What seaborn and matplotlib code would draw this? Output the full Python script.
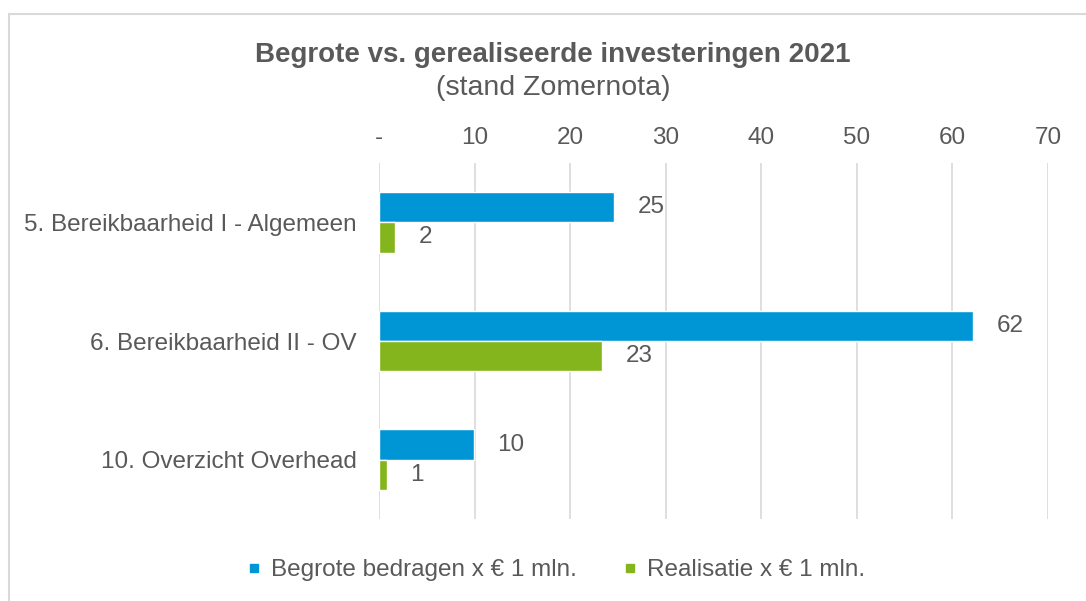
import matplotlib
matplotlib.use("Agg")
import matplotlib.pyplot as plt
import seaborn as sns
import pandas as pd
from matplotlib.patches import Rectangle
from matplotlib.lines import Line2D

categories = ["5. Bereikbaarheid I - Algemeen", "6. Bereikbaarheid II - OV", "10. Overzicht Overhead"]
series_names = ["Begrote bedragen x € 1 mln.", "Realisatie x € 1 mln."]
begroot = [24.6, 62.2, 9.9]
realisatie = [1.7, 23.3, 0.8]
xticks = [0, 10, 20, 30, 40, 50, 60, 70]
xtick_labels = ["-", "10", "20", "30", "40", "50", "60", "70"]
colors = ["#0096D6", "#84B51C"]

df = pd.DataFrame({
    "cat": categories * 2,
    "serie": [series_names[0]] * 3 + [series_names[1]] * 3,
    "val": begroot + realisatie,
})

sns.set_theme(style="white")
plt.rcParams["font.family"] = ["Liberation Sans", "DejaVu Sans"]
txt = "#595959"
fs = 17.5

fig = plt.figure(figsize=(10.86, 6.01), dpi=100)
ax = fig.add_axes([379 / 1086, 1 - 519 / 601, (1048 - 379) / 1086, (519 - 163) / 601])

sns.barplot(data=df, y="cat", x="val", hue="serie", orient="h", palette=colors,
            width=0.51, ax=ax, legend=False, saturation=1)

for cont in ax.containers:
    ax.bar_label(cont, labels=[f"{v:.0f}" for v in cont.datavalues], padding=17,
                 fontsize=fs, color=txt)

ax.set_xlim(0, 70)
ax.set_xticks(xticks)
ax.set_xticklabels(xtick_labels)
ax.xaxis.tick_top()
ax.tick_params(axis="x", length=0, pad=10, labelsize=fs, colors=txt)
ax.tick_params(axis="y", length=0, pad=16, labelsize=fs, colors=txt)
ax.set_xlabel("")
ax.set_ylabel("")
ax.grid(axis="x", color="#d9d9d9", lw=1.2)
ax.grid(axis="y", visible=False)
ax.set_axisbelow(True)
for s in ax.spines.values():
    s.set_visible(False)

fig.text(553 / 1086, 1 - 55 / 601, "Begrote vs. gerealiseerde investeringen 2021",
         ha="center", va="center", fontsize=20, fontweight="bold", color=txt)
fig.text(553 / 1086, 1 - 88 / 601, "(stand Zomernota)", ha="center", va="center",
         fontsize=20.5, color=txt)

handles = [Line2D([], [], marker="s", ls="", color=c, markersize=5.8) for c in colors]
fig.legend(handles, series_names, loc="center", bbox_to_anchor=(556 / 1086, 1 - 570 / 601),
           ncol=2, frameon=False, fontsize=fs, labelcolor=txt, handletextpad=0.4,
           columnspacing=1.9, handlelength=0.6)

fig.patches.append(Rectangle((9 / 1086, -0.02), 1.2, 1 - 14 / 601 + 0.02,
                             transform=fig.transFigure, fill=False, ec="#d9d9d9", lw=1.5))

fig.savefig("out.png", dpi=100)
